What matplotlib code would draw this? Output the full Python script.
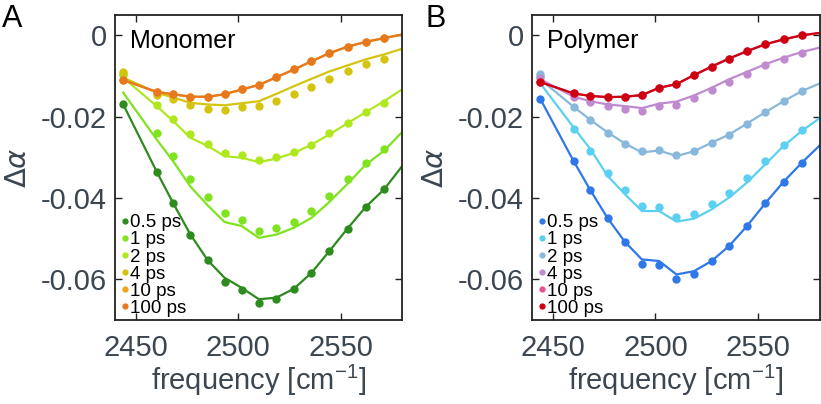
import matplotlib
matplotlib.use("Agg")
import matplotlib.pyplot as plt

plt.rcParams["font.family"] = ["Liberation Sans", "DejaVu Sans"]
plt.rcParams["axes.unicode_minus"] = False

# frequency grid (cm-1) of measured points, fit curves have one more point at the edge
freq = [2444.0, 2460.3, 2468.4, 2476.8, 2485.2, 2493.4, 2501.8, 2510.2,
        2518.7, 2527.3, 2535.8, 2544.5, 2553.4, 2562.3, 2571.2]
freq_fit = freq + [2580.0]

delays = ["0.5 ps", "1 ps", "2 ps", "4 ps", "10 ps", "100 ps"]

# Monomer
mono_05 = [-0.0170, -0.0335, -0.0413, -0.0490, -0.0553, -0.0607, -0.0625, -0.0659,
           -0.0648, -0.0623, -0.0584, -0.0531, -0.0475, -0.0422, -0.0379]
mono_05_fit = [-0.0170, -0.0335, -0.0413, -0.0490, -0.0553, -0.0596, -0.0621, -0.0649,
               -0.0645, -0.0623, -0.0584, -0.0531, -0.0475, -0.0422, -0.0379, -0.0322]
mono_1 = [-0.0097, -0.0241, -0.0297, -0.0354, -0.0398, -0.0438, -0.0454, -0.0481,
          -0.0473, -0.0458, -0.0432, -0.0395, -0.0354, -0.0313, -0.0280]
mono_1_fit = [-0.0141, -0.0256, -0.0310, -0.0372, -0.0418, -0.0459, -0.0469, -0.0498,
              -0.0490, -0.0473, -0.0449, -0.0410, -0.0365, -0.0318, -0.0284, -0.0238]
mono_2 = [-0.0093, -0.0172, -0.0205, -0.0242, -0.0267, -0.0289, -0.0294, -0.0307,
          -0.0300, -0.0286, -0.0269, -0.0240, -0.0216, -0.0189, -0.0167]
mono_2_fit = [-0.0104, -0.0174, -0.0211, -0.0252, -0.0272, -0.0297, -0.0301, -0.0312,
              -0.0303, -0.0289, -0.0269, -0.0244, -0.0216, -0.0189, -0.0162, -0.0133]
mono_4 = [-0.0091, -0.0147, -0.0157, -0.0172, -0.0180, -0.0184, -0.0176, -0.0175,
          -0.0161, -0.0145, -0.0126, -0.0107, -0.0088, -0.0071, -0.0057]
mono_4_fit = [-0.0104, -0.0141, -0.0153, -0.0166, -0.0170, -0.0172, -0.0167, -0.0162,
              -0.0144, -0.0125, -0.0107, -0.0089, -0.0074, -0.0059, -0.0047, -0.0033]
mono_10 = [-0.0110, -0.0139, -0.0145, -0.0151, -0.0151, -0.0145, -0.0133, -0.0122,
           -0.0103, -0.0084, -0.0064, -0.0044, -0.0028, -0.0016, -0.0007]
mono_10_fit = [-0.0110, -0.0139, -0.0145, -0.0151, -0.0151, -0.0145, -0.0133, -0.0122,
               -0.0103, -0.0084, -0.0064, -0.0044, -0.0028, -0.0016, -0.0007, 0.0002]
mono_100 = [-0.0110, -0.0139, -0.0145, -0.0151, -0.0151, -0.0145, -0.0133, -0.0122,
            -0.0103, -0.0084, -0.0064, -0.0044, -0.0028, -0.0016, -0.0007]
mono_100_fit = [-0.0110, -0.0139, -0.0145, -0.0151, -0.0151, -0.0145, -0.0133, -0.0122,
                -0.0103, -0.0084, -0.0064, -0.0044, -0.0028, -0.0016, -0.0007, 0.0002]

# Polymer
poly_05 = [-0.0156, -0.0310, -0.0381, -0.0450, -0.0508, -0.0562, -0.0565, -0.0599,
           -0.0588, -0.0555, -0.0518, -0.0469, -0.0413, -0.0360, -0.0313]
poly_05_fit = [-0.0156, -0.0310, -0.0381, -0.0450, -0.0508, -0.0551, -0.0555, -0.0588,
               -0.0580, -0.0555, -0.0518, -0.0469, -0.0413, -0.0360, -0.0313, -0.0270]
poly_1 = [-0.0100, -0.0231, -0.0285, -0.0338, -0.0381, -0.0420, -0.0421, -0.0447,
          -0.0439, -0.0414, -0.0387, -0.0350, -0.0309, -0.0270, -0.0233]
poly_1_fit = [-0.0118, -0.0227, -0.0280, -0.0346, -0.0391, -0.0432, -0.0432, -0.0458,
              -0.0451, -0.0428, -0.0399, -0.0362, -0.0317, -0.0272, -0.0235, -0.0203]
poly_2 = [-0.0096, -0.0176, -0.0208, -0.0239, -0.0266, -0.0285, -0.0282, -0.0294,
          -0.0285, -0.0264, -0.0244, -0.0217, -0.0189, -0.0162, -0.0137]
poly_2_fit = [-0.0108, -0.0176, -0.0208, -0.0239, -0.0266, -0.0288, -0.0283, -0.0297,
              -0.0285, -0.0264, -0.0244, -0.0217, -0.0189, -0.0162, -0.0137, -0.0118]
poly_4 = [-0.0104, -0.0151, -0.0164, -0.0175, -0.0180, -0.0185, -0.0174, -0.0172,
          -0.0153, -0.0135, -0.0114, -0.0094, -0.0074, -0.0059, -0.0044]
poly_4_fit = [-0.0108, -0.0151, -0.0162, -0.0170, -0.0174, -0.0179, -0.0168, -0.0163,
              -0.0148, -0.0129, -0.0108, -0.0090, -0.0071, -0.0055, -0.0041, -0.0030]
poly_10 = [-0.0115, -0.0143, -0.0149, -0.0152, -0.0151, -0.0147, -0.0129, -0.0120,
           -0.0098, -0.0077, -0.0057, -0.0039, -0.0022, -0.0010, 0.0000]
poly_10_fit = [-0.0115, -0.0143, -0.0149, -0.0152, -0.0151, -0.0147, -0.0129, -0.0120,
               -0.0098, -0.0077, -0.0057, -0.0039, -0.0022, -0.0010, 0.0000, 0.0006]
poly_100 = [-0.0115, -0.0143, -0.0149, -0.0152, -0.0151, -0.0147, -0.0129, -0.0120,
            -0.0098, -0.0077, -0.0057, -0.0039, -0.0022, -0.0010, 0.0000]
poly_100_fit = [-0.0115, -0.0143, -0.0149, -0.0152, -0.0151, -0.0147, -0.0129, -0.0120,
                -0.0098, -0.0077, -0.0057, -0.0039, -0.0022, -0.0010, 0.0000, 0.0006]

mono_colors = ["#2e8b1e", "#7fe31f", "#b0e820", "#d4c410", "#f2a317", "#e8781e"]
poly_colors = ["#2f78e8", "#5cd0f0", "#88b8dc", "#c08ad0", "#e8508e", "#cc0010"]

GRAY = "#3c4650"


def panel(ax, series, fits, colors, title):
    for y, yf, c, lab in zip(series, fits, colors, delays):
        ax.plot(freq_fit, yf, "-", color=c, lw=1.6)
        ax.plot(freq, y, "o", color=c, ms=6, mec="none", label=lab)
    ax.set_xlim(2440, 2580)
    ax.set_ylim(-0.07, 0.005)
    ax.set_xticks([2450, 2500, 2550])
    ax.set_yticks([0, -0.02, -0.04, -0.06])
    ax.set_yticklabels(["0", "-0.02", "-0.04", "-0.06"])
    ax.tick_params(direction="in", length=5, width=1.0, top=True, right=True,
                   labelsize=21, labelcolor=GRAY, color="#222222")
    ax.tick_params(axis="x", pad=10)
    ax.tick_params(axis="y", pad=6)
    for s in ax.spines.values():
        s.set_linewidth(1.3)
        s.set_color("#222222")
    ax.set_xlabel("frequency [cm$^{\\mathregular{-1}}$]", fontsize=21, color=GRAY,
                  labelpad=1)
    ax.set_ylabel(r"$\Delta\alpha$", fontsize=21, color=GRAY, labelpad=6)
    ax.text(0.052, 0.955, title, transform=ax.transAxes, fontsize=18,
            va="top", ha="left", color="black")
    leg = ax.legend(loc="lower left", bbox_to_anchor=(0.022, 0.01), frameon=False,
                    fontsize=13.5, handlelength=0.35, handletextpad=0.12,
                    labelspacing=0.0, markerscale=0.75, borderaxespad=0.0,
                    borderpad=0.0)
    for t in leg.get_texts():
        t.set_color("black")


fig = plt.figure(figsize=(8.21, 4.04), dpi=100)
ax1 = fig.add_axes([0.1401, 0.2079, 0.3496, 0.755])
ax2 = fig.add_axes([0.648, 0.2079, 0.3508, 0.755])

panel(ax1,
      [mono_05, mono_1, mono_2, mono_4, mono_10, mono_100],
      [mono_05_fit, mono_1_fit, mono_2_fit, mono_4_fit, mono_10_fit, mono_100_fit],
      mono_colors, "Monomer")
panel(ax2,
      [poly_05, poly_1, poly_2, poly_4, poly_10, poly_100],
      [poly_05_fit, poly_1_fit, poly_2_fit, poly_4_fit, poly_10_fit, poly_100_fit],
      poly_colors, "Polymer")

fig.text(0.002, 0.99, "A", fontsize=22, va="top", ha="left")
fig.text(0.518, 0.99, "B", fontsize=22, va="top", ha="left")

fig.savefig("out.png", dpi=100)
